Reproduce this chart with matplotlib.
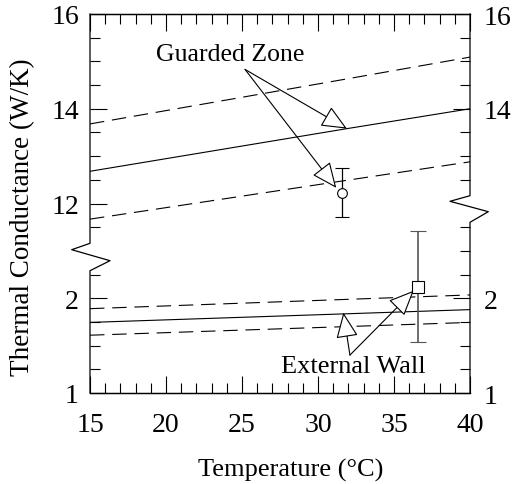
import numpy as np
import matplotlib
matplotlib.use("Agg")
import matplotlib.pyplot as plt
from matplotlib.ticker import FixedLocator, MultipleLocator

plt.rcParams['font.family'] = ['Liberation Serif', 'DejaVu Serif']

# guarded zone (upper part of the broken axis)
gz_temp = [15, 31.9, 40]
gz_fit = [12.68, 13.58, 14.0]
gz_upper = [13.68, 14.63, 15.09]
gz_lower = [11.67, 12.49, 12.88]
gz_pt_temp = 31.56
gz_pt_val = 12.23
gz_pt_err = [[0.52], [0.52]]

# external wall (lower part of the broken axis)
ew_temp = [15, 31.7, 40]
ew_fit = [1.745, 1.835, 1.88]
ew_upper = [1.89, 1.987, 2.035]
ew_lower = [1.61, 1.70, 1.745]
ew_pt_temp = 36.6
ew_pt_val = 2.12
ew_pt_err = [[0.58], [0.59]]

left_ticks = [1, 2, 12, 14, 16]
right_ticks = [1, 2, 14, 16]


def brk(v):
    # map values to the broken axis: 1..3 below, 12..16 above
    v = np.asarray(v, dtype=float)
    return np.where(v < 5, v - 1.0, v / 2.0 - 4.0)


fig = plt.figure(figsize=(5.12, 4.85), dpi=100)
ax = fig.add_axes([90 / 512, 1 - 394 / 485, 380 / 512, 379 / 485])
ax.set_xlim(15, 40)
ax.set_ylim(0, 4)

dash = (0, (13, 7))
lw = 0.8
ax.plot(gz_temp, brk(gz_fit), color='black', lw=lw)
ax.plot(gz_temp, brk(gz_upper), color='black', lw=lw, linestyle=dash)
ax.plot(gz_temp, brk(gz_lower), color='black', lw=lw, linestyle=dash)
ax.plot(ew_temp, brk(ew_fit), color='black', lw=lw)
ax.plot(ew_temp, brk(ew_upper), color='black', lw=lw, linestyle=dash)
ax.plot(ew_temp, brk(ew_lower), color='black', lw=lw, linestyle=dash)

# error bars (converted through the break)
gz_lo = brk(gz_pt_val) - brk(gz_pt_val - gz_pt_err[0][0])
gz_hi = brk(gz_pt_val + gz_pt_err[1][0]) - brk(gz_pt_val)
ax.errorbar([gz_pt_temp], [brk(gz_pt_val)], yerr=[[gz_lo], [gz_hi]],
            fmt='o', mfc='white', mec='black', ms=7, mew=0.8,
            ecolor='black', elinewidth=0.9, capsize=5, capthick=0.9, zorder=5)
ew_lo = brk(ew_pt_val) - brk(ew_pt_val - ew_pt_err[0][0])
ew_hi = brk(ew_pt_val + ew_pt_err[1][0]) - brk(ew_pt_val)
ax.errorbar([ew_pt_temp], [brk(ew_pt_val)], yerr=[[ew_lo], [ew_hi]],
            fmt='s', mfc='white', mec='black', ms=8, mew=0.8,
            ecolor='#555555', elinewidth=1.2, capsize=5.5, capthick=0.9, zorder=5)

# annotations
aprops = dict(arrowstyle='-|>,head_length=0.8,head_width=0.35', fc='white',
              ec='black', lw=0.8, mutation_scale=20, shrinkA=0, shrinkB=0)
ax.text(24.2, float(brk(15.16)), 'Guarded Zone', ha='center', va='center', fontsize=18.5)
ax.annotate('', xy=(31.9, float(brk(13.58))), xytext=(25.2, float(brk(14.83))), arrowprops=aprops)
ax.annotate('', xy=(31.2, float(brk(12.33))), xytext=(25.2, float(brk(14.83))), arrowprops=aprops)
ax.text(32.3, float(brk(1.28)), 'External Wall', ha='center', va='center', fontsize=19)
ax.annotate('', xy=(31.67, float(brk(1.848))), xytext=(32.1, float(brk(1.40))), arrowprops=aprops)
ax.annotate('', xy=(36.3, float(brk(2.08))), xytext=(32.1, float(brk(1.40))), arrowprops=aprops)

# x axis
ax.xaxis.set_major_locator(MultipleLocator(5))
ax.xaxis.set_minor_locator(MultipleLocator(1))
ax.tick_params(axis='x', which='both', direction='in', top=True, bottom=True,
               labelsize=20, pad=14)
ax.tick_params(axis='x', which='major', length=12.5, width=0.8)
ax.tick_params(axis='x', which='minor', length=7, width=0.8)

# left y axis
lt = brk(left_ticks)
ax.yaxis.set_major_locator(FixedLocator(lt))
ax.set_yticklabels([str(t) for t in left_ticks])
minor_all = np.arange(0, 4.01, 0.25)
ax.yaxis.set_minor_locator(FixedLocator([m for m in minor_all
                                         if m not in lt and abs(m - 1.5) > 0.01]))
ax.tick_params(axis='y', which='both', direction='in', left=True, right=False,
               labelsize=20, pad=8)
ax.tick_params(axis='y', which='major', length=12.5, width=0.8)
ax.tick_params(axis='y', which='minor', length=7, width=0.8)

# right y axis
ax2 = ax.twinx()
ax2.set_ylim(0, 4)
rt = brk(right_ticks)
ax2.yaxis.set_major_locator(FixedLocator(rt))
ax2.set_yticklabels([str(t) for t in right_ticks])
ax2.yaxis.set_minor_locator(FixedLocator([m for m in minor_all
                                          if m not in rt and abs(m - 2.0) > 0.01]))
ax2.tick_params(axis='y', which='both', direction='in', labelsize=20, pad=10)
ax2.tick_params(axis='y', which='major', length=12.5, width=0.8)
ax2.tick_params(axis='y', which='minor', length=7, width=0.8)

for a in (ax, ax2):
    a.spines['left'].set_visible(False)
    a.spines['right'].set_visible(False)
    for s in ('top', 'bottom'):
        a.spines[s].set_linewidth(0.9)

# broken side frames with zigzags (axes coordinates)
def fy(py):
    return (394 - py) / 379.0

def fx(px):
    return (px - 90) / 380.0

left_frame = [(0.0, 1.0), (0.0, fy(244.3)), (fx(71.7), fy(250.7)),
              (fx(110), fy(261.7)), (0.0, fy(271.7)), (0.0, 0.0)]
right_frame = [(1.0, 1.0), (1.0, fy(196.7)), (fx(450), fy(202.3)),
               (fx(488.3), fy(212.7)), (1.0, fy(223.3)), (1.0, 0.0)]
for fr in (left_frame, right_frame):
    xs, ys = zip(*fr)
    ax.plot(xs, ys, color='black', lw=0.9, transform=ax.transAxes, clip_on=False)

fig.text(291 / 512, 1 - 470 / 485, 'Temperature (°C)', ha='center', va='center', fontsize=19)
fig.text(23 / 512, 1 - 217.5 / 485, 'Thermal Conductance (W/K)', ha='center', va='center',
         rotation=90, fontsize=19.5)

fig.savefig('out.png', dpi=100)
